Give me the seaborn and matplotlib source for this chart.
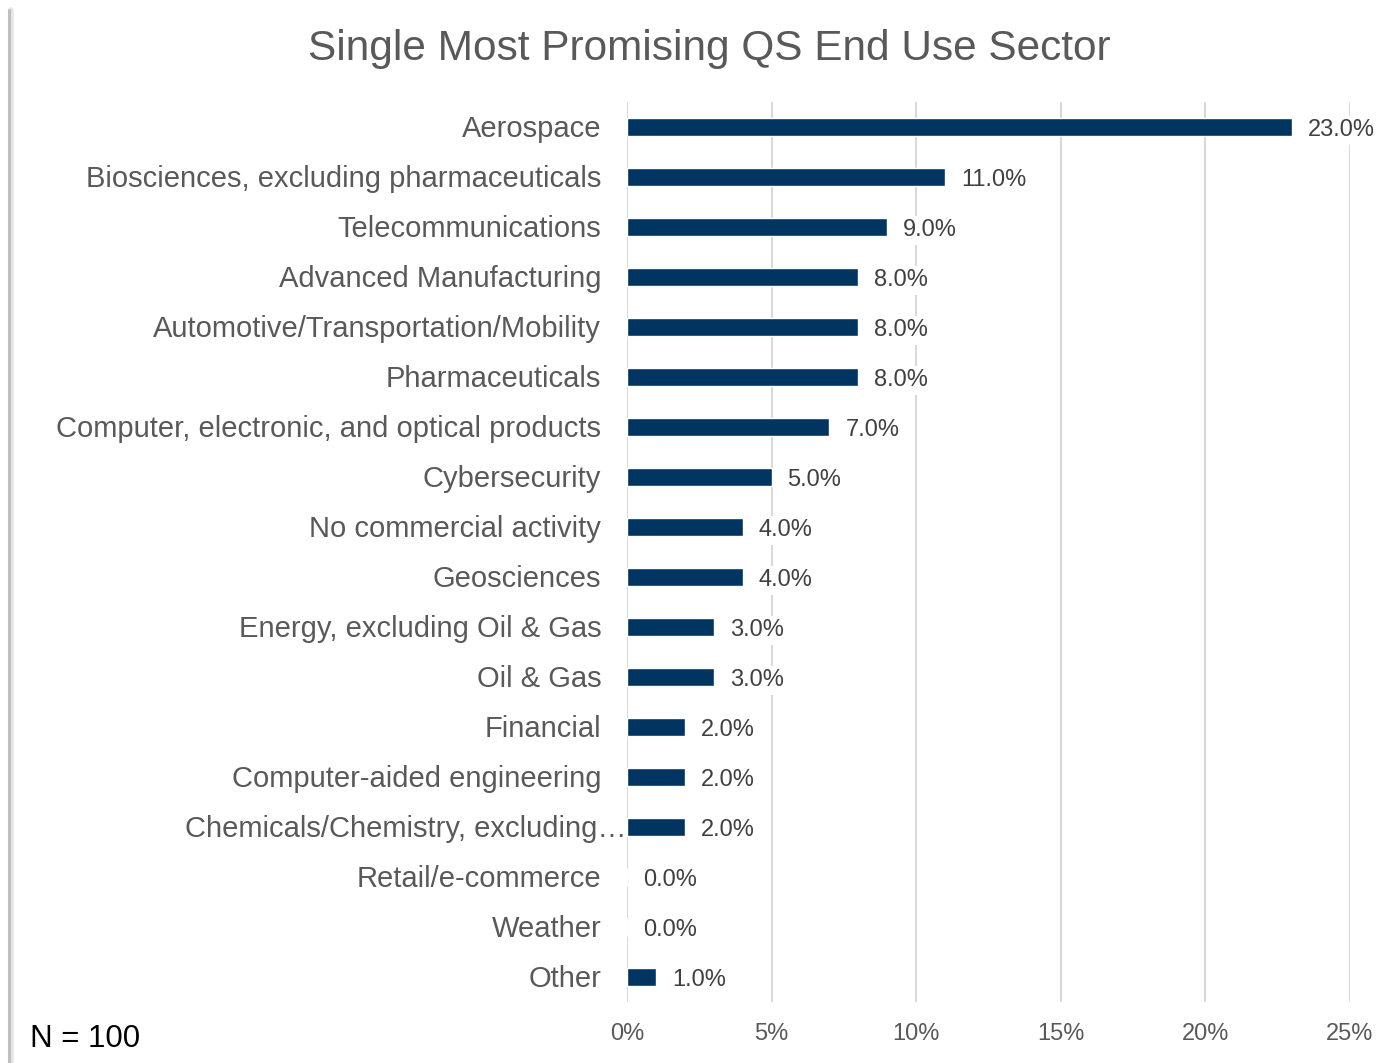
import matplotlib
matplotlib.use("Agg")
import matplotlib.pyplot as plt
import matplotlib.transforms as mtransforms
import seaborn as sns
import pandas as pd
from matplotlib.lines import Line2D

sectors = [
    "Aerospace",
    "Biosciences, excluding pharmaceuticals",
    "Telecommunications",
    "Advanced Manufacturing",
    "Automotive/Transportation/Mobility",
    "Pharmaceuticals",
    "Computer, electronic, and optical products",
    "Cybersecurity",
    "No commercial activity",
    "Geosciences",
    "Energy, excluding Oil & Gas",
    "Oil & Gas",
    "Financial",
    "Computer-aided engineering",
    "Chemicals/Chemistry, excluding\u2026",
    "Retail/e-commerce",
    "Weather",
    "Other",
]
shares = [23.0, 11.0, 9.0, 8.0, 8.0, 8.0, 7.0, 5.0, 4.0, 4.0, 3.0, 3.0, 2.0, 2.0, 2.0, 0.0, 0.0, 1.0]
x_ticks = [0, 5, 10, 15, 20, 25]
x_tick_labels = ["0%", "5%", "10%", "15%", "20%", "25%"]

df = pd.DataFrame({"sector": sectors, "share": shares})

sns.set_theme(style="white")
plt.rcParams["font.family"] = ["Liberation Sans", "DejaVu Sans"]

W, H = 1394, 1063
fig = plt.figure(figsize=(W / 100, H / 100), dpi=100)
ax = fig.add_axes([627 / W, 1 - 1002 / H, (1350 - 627) / W, 900 / H])

sns.barplot(data=df, x="share", y="sector", orient="h", color="#003461",
            width=0.36, saturation=1, ax=ax, zorder=3)

ax.set_xlim(0, 25)
ax.set_ylim(len(sectors) - 0.5, -0.5)
ax.set_xticks(x_ticks)
ax.set_xticklabels(x_tick_labels, fontsize=17, color="#595959")
ax.tick_params(axis="x", length=0, pad=15)
ax.tick_params(axis="y", length=0, pad=18.5, labelsize=21, labelcolor="#595959")
ax.set_xlabel("")
ax.set_ylabel("")
for s in ax.spines.values():
    s.set_visible(False)
ax.xaxis.grid(True, color="#d9d9d9", linewidth=1.5, zorder=0)
ax.set_axisbelow(True)

# the truncated label hangs its ellipsis past the label column
for lab in ax.get_yticklabels():
    lab.set_transform(lab.get_transform() +
                      mtransforms.ScaledTranslation(0, 0.01, fig.dpi_scale_trans))
    if lab.get_text().endswith("\u2026"):
        lab.set_transform(lab.get_transform() +
                          mtransforms.ScaledTranslation(0.25, 0, fig.dpi_scale_trans))

for i, v in enumerate(shares):
    ax.annotate(f"{v:.1f}%", xy=(v, i), xytext=(11.5, -2.5), textcoords="offset points",
                ha="left", va="center", fontsize=17, color="#404040", zorder=4,
                bbox=dict(boxstyle="square,pad=0.15", fc="white", ec="none"),
                annotation_clip=False)

fig.text(709.5 / W, 1 - 49 / H, "Single Most Promising QS End Use Sector",
         ha="center", va="center", fontsize=30.5, color="#595959")
fig.text(30 / W, 1 - 1039 / H, "N = 100", ha="left", va="center",
         fontsize=22.5, color="black")

# soft grey page edge on the left
for x, c, lw in [(11, "#e6e6e6", 4), (9, "#bfbfbf", 2.2)]:
    fig.add_artist(Line2D([x / W, x / W], [0, 1 - 10 / H], transform=fig.transFigure,
                          color=c, linewidth=lw))

fig.savefig("out.png", dpi=100, facecolor="white")
